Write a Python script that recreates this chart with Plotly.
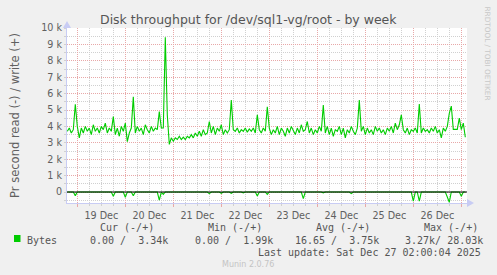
import pandas as pd
import plotly.graph_objects as go

W, H = 497, 275
L, R, T, B = 67, 30, 28, 72
PW, PH = W - L - R, H - T - B

title = "Disk throughput for /dev/sql1-vg/root - by week"
y_title = "Pr second read (-) / write (+)"
start_time = "2025-12-18 19:00"

# write bytes per second (k), hourly samples
write_k = [
    3.7, 3.9, 3.6, 3.8, 5.35, 4.0, 3.3,
    3.9, 3.6, 4.0, 3.7, 3.9, 3.5, 4.1, 3.7, 3.9, 3.6, 4.0, 3.8, 4.2, 3.6, 3.9,
    3.7, 4.6,
    3.5, 3.9, 3.4, 4.0, 3.7, 4.2,
    3.07, 3.6, 3.9, 5.8,
    3.6, 4.0, 3.7, 3.9, 3.5, 4.1, 3.8, 3.6, 4.0, 3.7, 3.9, 3.8,
    4.9, 3.9, 3.9, 9.43, 4.7, 2.9,
    3.3, 3.1, 3.3, 3.2, 3.4, 3.2, 3.35, 3.2, 3.4,
    3.3, 3.5, 3.3, 3.6, 3.4, 3.7, 3.4, 3.8, 3.5, 3.6,
    4.3,
    3.6, 4.0, 3.5, 3.9, 3.7, 4.1, 3.5, 3.8, 3.6, 3.8,
    5.6,
    3.8, 3.7, 3.9, 3.6, 3.8, 3.7, 3.9, 3.65, 3.85, 3.7, 3.9, 3.6,
    4.7,
    3.8, 3.6, 3.9, 3.7,
    5.2,
    3.9, 3.5, 3.8, 3.6, 4.0, 3.5, 3.9, 3.7, 3.4, 3.9, 3.6, 4.0, 3.7, 3.5, 3.9, 3.6, 4.1, 3.7, 3.8,
    4.3,
    3.6, 3.9, 3.5, 3.8, 3.6, 4.0, 3.7,
    5.3,
    3.6, 4.0, 3.5, 3.9, 3.4, 3.8, 3.7, 4.0, 3.5, 3.9, 3.3, 3.8, 3.6, 4.0, 3.7, 3.5, 3.9,
    5.6,
    3.7, 4.0, 3.5, 3.9, 3.6, 3.8, 3.5, 4.0, 3.7, 3.9, 3.6, 3.8, 3.5, 3.9, 3.7, 4.0, 3.6, 4.2, 3.8, 4.1,
    4.7,
    3.8, 3.6, 3.9, 3.5, 3.8, 3.7, 3.9, 3.6,
    5.37,
    3.6, 3.9, 3.7, 3.8, 3.6, 3.9, 3.7, 4.0, 3.6, 3.8,
    3.3,
    3.9, 3.7, 4.0,
    4.8, 5.24, 3.82, 3.82, 3.82, 4.5, 3.8, 4.2, 3.34,
]

# read bytes per second (k), sparse non-zero hourly samples (drawn negative)
read_idx = [4, 23, 29, 33, 46, 48, 71, 77, 82, 88, 95, 100, 118, 128, 142, 173, 176, 190, 191, 197]
read_k = [0.22, 0.26, 0.32, 0.23, 0.5, 0.15, 0.1, 0.08, 0.08, 0.05, 0.25, 0.15, 0.4, 0.05, 0.1, 0.55, 0.55, 0.3, 0.62, 0.26]

y_tick_vals = [0, 1000, 2000, 3000, 4000, 5000, 6000, 7000, 8000, 9000, 10000]
y_tick_labels = ["0", "1 k", "2 k", "3 k", "4 k", "5 k", "6 k", "7 k", "8 k", "9 k", "10 k"]

legend_name = "Bytes"
stat_headers = ["Cur (-/+)", "Min (-/+)", "Avg (-/+)", "Max (-/+)"]
stat_values = ["0.00 /  3.34k", "0.00 /  1.99k", "16.65 /  3.75k", "3.27k/ 28.03k"]
last_update = "Last update: Sat Dec 27 02:00:04 2025"
footer = "Munin 2.0.76"
side_text = "RRDTOOL / TOBI OETIKER"

times = pd.date_range(start_time, periods=len(write_k), freq="h")
write = [v * 1000 for v in write_k]
read = [0.0] * len(write_k)
for i, v in zip(read_idx, read_k):
    read[i] = -v * 1000

GREEN = "#00cc00"
TXT = "#555555"
TICKTXT = "#606060"
MAJ = "#e8a8a8"
MIN = "#d0d0d0"
AX = "#c8ccf4"


def px(x):
    return (x - L) / PW


def py(y):
    return (T + PH - y) / PH


fig = go.Figure()
fig.add_trace(go.Scatter(x=times, y=read, mode="lines", line=dict(color=GREEN, width=1.1), hoverinfo="skip"))
fig.add_trace(go.Scatter(x=times, y=write, mode="lines", line=dict(color=GREEN, width=1.1), hoverinfo="skip"))

fig.update_layout(
    width=W, height=H,
    margin=dict(l=L, r=R, t=T, b=B, pad=0),
    paper_bgcolor="#f0f0f0", plot_bgcolor="#ffffff",
    showlegend=False,
    font=dict(family="DejaVu Sans", size=9.6, color=TICKTXT),
    xaxis=dict(
        type="date",
        range=["2025-12-18 18:51", "2025-12-27 02:51"],
        tickmode="linear", tick0="2025-12-19", dtick=86400000,
        ticklabelmode="period", tickformat="%d %b",
        showgrid=True, gridcolor=MAJ, griddash="1px,1px", gridwidth=1,
        ticks="outside", ticklen=3, tickcolor=MAJ, tickwidth=1,
        minor=dict(dtick=6 * 3600000, tick0="2025-12-19", showgrid=True, gridcolor=MIN,
                   griddash="1px,1px", ticks="outside", ticklen=2, tickcolor=MIN),
        showline=True, linecolor=AX, linewidth=1,
        zeroline=False, fixedrange=True,
    ),
    yaxis=dict(
        range=[-670, 10000],
        tickmode="array", tickvals=y_tick_vals, ticktext=y_tick_labels,
        showgrid=True, gridcolor=MAJ, griddash="1px,1px", gridwidth=1,
        ticks="outside", ticklen=2, tickcolor=MIN,
        minor=dict(dtick=500, tick0=0, showgrid=True, gridcolor=MIN, griddash="1px,1px",
                   ticks="outside", ticklen=2, tickcolor=MIN),
        showline=True, linecolor=AX, linewidth=1,
        zeroline=False,
        title=dict(text=y_title, font=dict(size=11.5, color=TICKTXT), standoff=19),
    ),
)

shapes = [
    # zero rule
    dict(type="line", xref="paper", yref="y", x0=0, x1=1, y0=0, y1=0,
         line=dict(color="#000000", width=1), layer="above"),
    # axis arrows
    dict(type="path", xref="paper", yref="paper",
         path=f"M {px(63)},{py(28)} L {px(71)},{py(28)} L {px(67)},{py(21)} Z",
         fillcolor=AX, line=dict(width=0)),
    dict(type="path", xref="paper", yref="paper",
         path=f"M {px(467)},{py(199)} L {px(467)},{py(207)} L {px(474)},{py(203)} Z",
         fillcolor=AX, line=dict(width=0)),
    # legend swatch
    dict(type="rect", xref="paper", yref="paper", x0=px(14), x1=px(20.5), y0=py(242), y1=py(235),
         fillcolor=GREEN, line=dict(width=0)),
]
fig.update_layout(shapes=shapes)

MONO = "DejaVu Sans Mono"
ann = []
ann.append(dict(text=title, x=px(248), y=py(19), xanchor="center", yanchor="middle",
                font=dict(size=12.5, color=TXT)))
ann.append(dict(text=side_text, x=px(487.5), y=py(53), xanchor="center", yanchor="middle",
                textangle=90, font=dict(size=7.3, color="#c8c8c8")))
ann.append(dict(text=legend_name, x=px(26), y=py(240), xanchor="left", yanchor="middle",
                font=dict(family=MONO, size=10, color=TXT)))
for hx, h in zip([98.7, 206.7, 315.3, 422.7], stat_headers):
    ann.append(dict(text=h, x=px(hx), y=py(227.5), xanchor="left", yanchor="middle",
                    font=dict(family=MONO, size=10, color=TXT)))
for vx, v in zip([89, 194.3, 294, 404.3], stat_values):
    ann.append(dict(text=v.replace(" ", "&nbsp;"), x=px(vx), y=py(240), xanchor="left", yanchor="middle",
                    font=dict(family=MONO, size=10, color=TXT)))
ann.append(dict(text=last_update, x=px(482.3), y=py(252), xanchor="right", yanchor="middle",
                font=dict(family=MONO, size=10, color=TXT)))
ann.append(dict(text=footer, x=px(247.7), y=py(264), xanchor="center", yanchor="middle",
                font=dict(size=8, color="#c4c4c4")))
for a in ann:
    a.update(xref="paper", yref="paper", showarrow=False, borderpad=0)
fig.update_layout(annotations=ann)

fig.write_html("out.html", config={"displayModeBar": False})
